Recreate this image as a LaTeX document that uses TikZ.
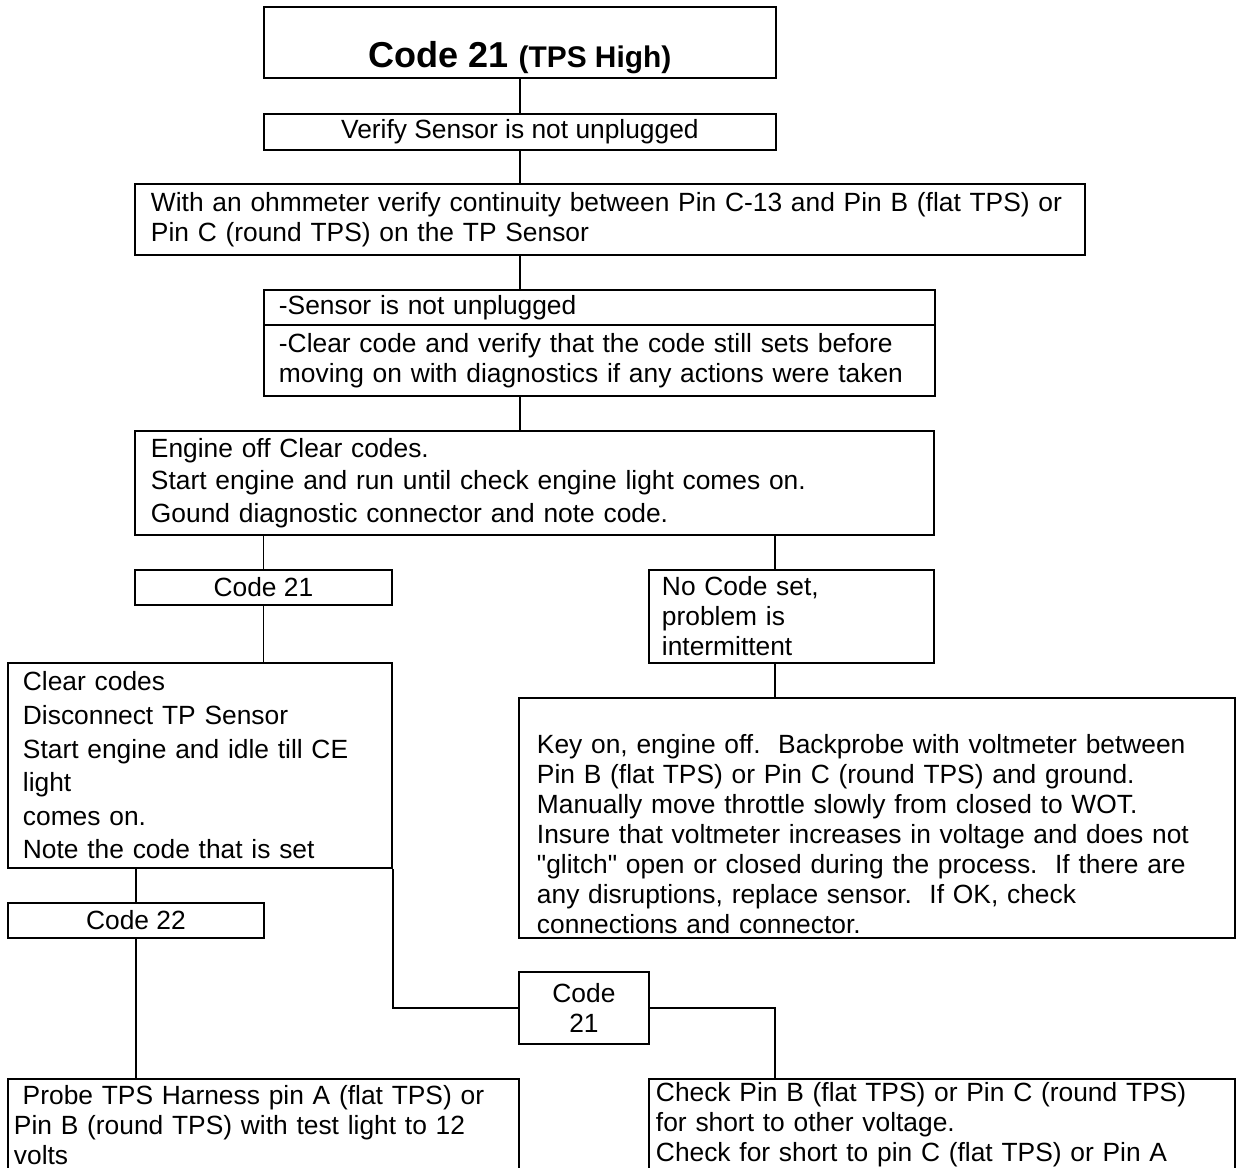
\documentclass[tikz,border=0pt]{standalone}
\usepackage{fontspec}
\setmainfont{Liberation Sans}
\frenchspacing

\begin{document}
\begin{tikzpicture}[x=0.02cm,y=-0.02cm,
  box/.style={draw,line width=1.1pt,anchor=north west,inner ysep=0pt,
    font=\fontsize{15}{17.1}\selectfont},
  note/.style={box,align=left},
  tag/.style={box,align=center},
  link/.style={line width=0.75pt}]

  \useasboundingbox (0,0) rectangle (1236,1168);
  \fill[white] (0,0) rectangle (1236,1168);
  \clip (0,0) rectangle (1236,1168);

  \coordinate (rcol) at (775,0);

  \draw (263,6) node[box,inner sep=0pt,minimum width=10.24cm,text height=1.22cm,text depth=0.2cm,
    font={\bfseries\fontsize{20.5}{24}\selectfont}] (title) {Code 21 {\fontsize{17}{20}\selectfont(TPS High)}};
  \draw (263,113) node[tag,minimum width=10.24cm,minimum height=0.72cm] (verify) {Verify Sensor is not unplugged};
  \draw (134,183) node[note,inner xsep=0.32cm,text width=18.36cm,minimum height=1.42cm] (ohm)
    {With an ohmmeter verify continuity between Pin C-13 and Pin B (flat TPS) or\\Pin C (round TPS) on the TP Sensor};
  \draw (263,289) node[note,inner xsep=0.3cm,text width=12.82cm,minimum height=0.70cm] (plugA) {-Sensor is not unplugged};
  \draw (263,324) node[note,inner xsep=0.3cm,text width=12.82cm,minimum height=1.42cm] (plugB)
    {-Clear code and verify that the code still sets before\\moving on with diagnostics if any actions were taken};
  \draw (134,430) node[note,inner xsep=0.32cm,text width=15.34cm,minimum height=2.08cm,
    font=\fontsize{15}{18.5}\selectfont] (engine)
    {Engine off Clear codes.\\Start engine and run until check engine light comes on.\\Gound diagnostic connector and note code.};
  \draw (134,569) node[tag,minimum width=5.14cm,minimum height=0.70cm] (c21) {Code 21};
  \draw (648,569) node[note,inner xsep=0.26cm,text width=5.18cm,minimum height=1.86cm] (open)
    {No Code set,\\problem is\\intermittent};
  \draw (7,662) node[note,inner xsep=0.3cm,text width=7.08cm,minimum height=4.10cm,
    font=\fontsize{15}{19.1}\selectfont] (clear)
    {Clear codes\\Disconnect TP Sensor\\Start engine and idle till CE\\light\\comes on.\\Note the code that is set};
  \draw (518,697) node[note,inner xsep=0.36cm,text width=13.6cm,minimum height=4.8cm] (key)
    {\strut\\Key on, engine off.~ Backprobe with voltmeter between\\Pin B (flat TPS) or Pin C (round TPS) and ground.\\Manually move throttle slowly from closed to WOT.\\Insure that voltmeter increases in voltage and does not\\\textquotedbl glitch\textquotedbl{} open or closed during the process.~ If there are\\any disruptions, replace sensor.~ If OK, check\\connections and connector.};
  \draw (7,902) node[tag,minimum width=5.12cm,minimum height=0.70cm] (c22) {Code 22};
  \draw (518,971) node[tag,minimum width=2.6cm,minimum height=1.44cm] (c21b) {Code\\21};
  \draw (7,1078) node[note,inner xsep=0.12cm,text width=9.98cm,minimum height=1.84cm] (probe)
    {\ Probe TPS Harness pin A (flat TPS) or\\Pin B (round TPS) with test light to 12\\volts};
  \draw (648,1078) node[note,inner xsep=0.14cm,text width=11.44cm,minimum height=1.84cm] (short)
    {Check Pin B (flat TPS) or Pin C (round TPS)\\for short to other voltage.\\Check for short to pin C (flat TPS) or Pin A};

  \draw[link] (title) -- (verify);
  \draw[link] (verify) -- (verify |- ohm.north);
  \draw[link] (verify |- ohm.south) -- (verify |- plugA.north);
  \draw[link] (verify |- plugB.south) -- (verify |- engine.north);
  \draw[link] (c21 |- engine.south) -- (c21);
  \draw[link] (rcol |- engine.south) -- (rcol |- open.north);
  \draw[link] (c21) -- (c21 |- clear.north);
  \draw[link] (rcol |- open.south) -- (rcol |- key.north);
  \draw[link] (c22 |- clear.south) -- (c22);
  \draw[link] (c22) -- (c22 |- probe.north);
  \draw[link] (clear.south east) |- (c21b.west);
  \draw[link] (c21b.east) -| (rcol |- short.north);

\end{tikzpicture}
\end{document}
